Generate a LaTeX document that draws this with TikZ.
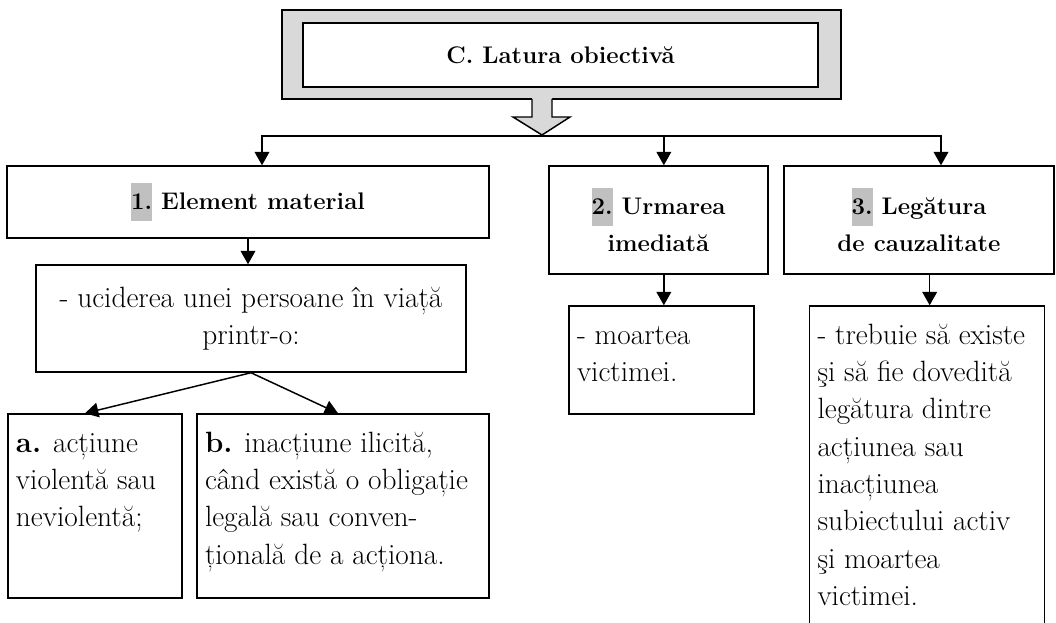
\documentclass[tikz,border=0pt]{standalone}
\usepackage{tikz}
\usetikzlibrary{arrows.meta, calc}
\definecolor{framegray}{RGB}{217,217,217}
\definecolor{hlgray}{RGB}{192,192,192}
\newcommand{\hlnum}[1]{{\setlength{\fboxsep}{0pt}\colorbox{hlgray}{\strut#1}}}
\newcommand{\toptext}[3]{\parbox[c][#2][t]{#1}{\raggedright\strut#3}}

\begin{document}
\begin{tikzpicture}[x=0.75pt, y=-0.75pt,
  box/.style={draw, line width=1.1pt, inner sep=0pt, align=center,
    font=\fontsize{22}{28}\selectfont},
  head/.style={box, font=\fontsize{18}{28}\selectfont\bfseries},
  tbox/.style={box, align=left, inner xsep=6pt, inner ysep=9pt},
  arr/.style={-{Triangle[width=11pt,length=10pt]}, line width=1.1pt}]
\path[use as bounding box] (0,0) rectangle (1056,623);
\clip (0,0) rectangle (1056,623);

\node[box, fill=framegray, minimum width=419.25pt, minimum height=66.75pt] (outer) at (561.5,54.5) {};
\node[head, fill=white, minimum width=386.25pt, minimum height=48pt] (title) at (560.5,55) {C. Latura obiectivă};
\fill[framegray] (532,96) -- (532,117) -- (513,117) -- (542,135) -- (570,117) -- (552,117) -- (552,96) -- cycle;
\draw[line width=1.1pt, line join=miter] (532,99) -- (532,117) -- (513,117) -- (542,135) -- (570,117) -- (552,117) -- (552,99);
\coordinate (fork) at (542,136);

\node[head, minimum width=361.5pt, minimum height=54pt] (elem) at (248,202) {\hlnum{1.} Element material};
\node[head, minimum width=164.25pt, minimum height=81pt] (urm) at (658.5,220) {\hlnum{2.} Urmarea\\ imediată};
\node[head, minimum width=202.5pt, minimum height=81pt] (leg) at (919,220) {\hlnum{3.} Legătura\\ de cauzalitate};

\node[box, minimum width=322.5pt, minimum height=80.25pt] (ucid) at (251,318.5) {- uciderea unei persoane în viață\\ printr-o:};
\node[tbox] (act) at (95,506) {\toptext{118.5pt}{120pt}{\textbf{a.} acțiune\\ violentă sau\\ neviolentă;}};
\node[tbox] (inact) at (343,506) {\toptext{207pt}{120pt}{\textbf{b.} inacțiune ilicită,\\ când există o obligație\\ legală sau conven-\\ țională de a acționa.}};
\node[tbox] (moarte) at (661.5,360) {\toptext{126.75pt}{63pt}{- moartea\\ victimei.}};
\node[tbox] (cauza) at (927,473) {\toptext{164.25pt}{232.5pt}{- trebuie să existe\\ şi să fie dovedită\\ legătura dintre\\ acțiunea sau\\ inacțiunea\\ subiectului activ\\ şi moartea\\ victimei.}};

\draw[arr] (fork) -| ([xshift=10.5pt]elem.north);
\draw[arr] (fork) -| ([xshift=16.5pt]leg.north);
\draw[arr] ([xshift=4pt]urm.north |- fork) -- ([xshift=4pt]urm.north);
\draw[arr] (elem.south) -- (elem.south |- ucid.north);
\draw[arr] ([xshift=4pt]urm.south) -- ([xshift=4pt]urm.south |- moarte.north);
\draw[arr] ([xshift=8pt]leg.south) -- ([xshift=8pt]leg.south |- cauza.north);
\draw[arr] (ucid.south) -- ([xshift=-7.5pt]act.north);
\draw[arr] (ucid.south) -- ([xshift=-3.75pt]inact.north);
\end{tikzpicture}
\end{document}
